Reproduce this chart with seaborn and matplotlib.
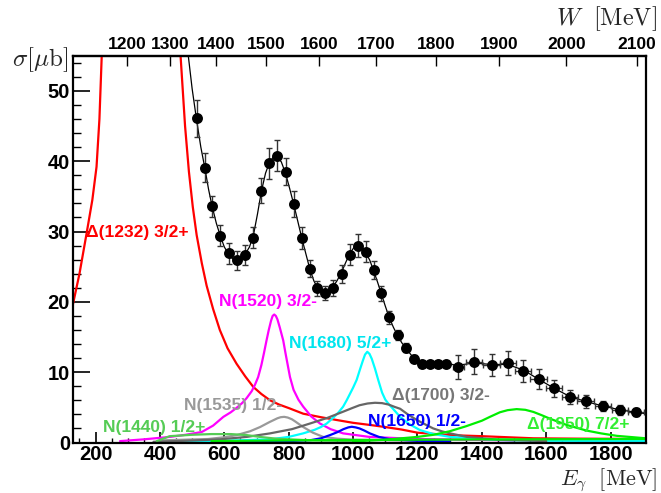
import numpy as np
import pandas as pd
import matplotlib
matplotlib.use("Agg")
import matplotlib.pyplot as plt
from matplotlib.ticker import MultipleLocator, FixedLocator
import seaborn as sns

# ---- measured total cross section ----
e_gamma = [514, 540, 562, 588, 613, 639, 665, 690, 715, 740, 763, 790, 816, 841,
           866, 889, 913, 937, 964, 989, 1014, 1039, 1064, 1088, 1112, 1138, 1164,
           1188, 1214, 1240, 1264, 1289, 1327, 1375, 1430, 1480, 1529, 1576, 1625,
           1675, 1722, 1775, 1828, 1878]
sigma = [46.1, 39.1, 33.6, 29.4, 26.9, 25.9, 26.7, 29.1, 35.8, 39.7, 40.8, 38.5, 33.9, 29.1,
         24.7, 21.9, 21.3, 22.0, 24.0, 26.7, 28.0, 27.1, 24.5, 21.2, 17.8, 15.3, 13.5,
         11.9, 11.2, 11.1, 11.2, 11.2, 10.7, 11.5, 11.0, 11.3, 10.2, 9.0, 7.7,
         6.5, 5.85, 5.2, 4.65, 4.3]
sigma_err = [2.6, 2.1, 1.5, 1.5, 1.5, 1.4, 1.4, 1.5, 1.8, 2.2, 2.2, 1.9, 1.8, 1.6,
             1.2, 1.0, 1.0, 1.1, 1.3, 1.5, 1.6, 1.5, 1.3, 1.1, 0.9, 0.7, 0.6,
             0.5, 0.4, 0.4, 0.4, 0.4, 1.7, 1.8, 1.6, 1.7, 1.6, 1.4, 1.2,
             1.0, 0.9, 0.7, 0.7, 0.6]
e_err = [0] * 32 + [18] + [25] * 11

# ---- total fit curve ----
fit_e = [488, 500, 514, 527, 540, 551, 562, 575, 588, 600, 613, 626, 639, 652, 665,
         678, 690, 703, 715, 728, 740, 752, 763, 777, 790, 803, 816, 829, 841, 854,
         866, 878, 889, 901, 913, 925, 937, 950, 964, 977, 989, 1002, 1014, 1027,
         1039, 1052, 1064, 1076, 1088, 1100, 1112, 1125, 1138, 1151, 1164, 1176,
         1188, 1214, 1240, 1264, 1289, 1327, 1375, 1430, 1480, 1529, 1576, 1625,
         1675, 1722, 1775, 1828, 1878, 1909]
fit_sigma = [55.0, 50.3, 45.8, 42.0, 38.9, 36.0, 33.6, 31.2, 29.3, 27.8, 26.8, 26.1, 25.9,
             26.1, 26.8, 27.8, 29.4, 32.5, 35.7, 38.3, 39.8, 40.6, 40.7, 39.9, 38.3,
             36.1, 33.8, 31.3, 29.0, 26.7, 24.6, 23.0, 22.0, 21.4, 21.3, 21.6, 22.1,
             23.0, 24.2, 25.6, 26.8, 27.7, 28.0, 27.8, 27.0, 25.9, 24.4, 22.8, 21.1,
             19.4, 17.8, 16.4, 15.2, 14.2, 13.4, 12.7, 12.0, 11.3, 11.1, 11.2, 11.2,
             11.0, 11.3, 11.1, 11.1, 10.3, 9.0, 7.7, 6.5, 5.85, 5.2, 4.65, 4.3, 4.1]

# ---- single-resonance contributions ----
d1232_e = [129, 150, 172, 190, 203, 212, 219, 225, 240, 260, 280, 310, 340, 370, 400,
           420, 440, 452, 464, 478, 490, 502, 514, 530, 545, 565, 586, 610, 638, 665,
           690, 715, 742, 770, 800, 845, 900, 949, 1000, 1052, 1100, 1150, 1200, 1300,
           1400, 1560, 1700, 1909]
d1232_s = [19.5, 24.0, 29.7, 34.5, 39.2, 46.0, 54.8, 62, 85, 125, 180, 300, 400, 300, 180,
           125, 90, 70, 55, 45, 38.5, 33.5, 29.5, 25.5, 22.3, 19.0, 16.0, 13.4, 11.2, 9.4,
           7.9, 6.9, 6.0, 5.4, 4.9, 4.1, 3.6, 3.2, 2.8, 2.5, 2.2, 1.85, 1.4, 1.05,
           0.9, 0.6, 0.55, 0.5]

n1520_e = [276, 350, 431, 480, 530, 565, 597, 620, 640, 655, 669, 685, 695, 705, 715, 723,
           731, 738, 745, 750, 755, 760, 765, 772, 783, 790, 797, 804, 815, 830, 845,
           870, 897, 930, 969, 1050, 1200, 1500]
n1520_s = [0.2, 0.45, 0.8, 1.1, 1.5, 2.4, 3.65, 4.3, 5.0, 5.6, 6.3, 7.3, 8.2, 9.3, 11.0, 12.7,
           14.5, 16.0, 17.3, 18.0, 18.2, 18.0, 17.5, 16.4, 14.5, 12.7, 11.0, 9.3, 7.5, 6.1, 5.1,
           3.7, 2.7, 1.9, 1.3, 0.8, 0.5, 0.3]

n1680_e = [420, 600, 742, 800, 845, 880, 900, 918, 940, 955, 969, 980, 990, 1000, 1011,
           1020, 1030, 1037, 1044, 1051, 1058, 1068, 1078, 1090, 1100, 1110, 1120, 1146,
           1175, 1208, 1250, 1301, 1456, 1600, 1909]
n1680_s = [0.15, 0.25, 0.45, 0.8, 1.3, 1.8, 2.2, 2.7, 3.6, 4.3, 5.1, 6.0, 6.9, 7.8, 8.9,
           10.2, 11.6, 12.5, 12.9, 12.6, 11.9, 10.5, 8.9, 7.1, 6.1, 5.5, 5.0, 3.65,
           2.6, 1.76, 1.2, 0.8, 0.35, 0.25, 0.2]

n1535_e = [400, 550, 600, 638, 680, 711, 740, 765, 775, 786, 797, 810, 820, 845, 875, 907,
           950, 1000, 1200]
n1535_s = [0.3, 0.5, 0.75, 1.05, 1.6, 2.2, 2.9, 3.45, 3.6, 3.65, 3.55, 3.3, 3.0, 2.2, 1.4,
           0.8, 0.55, 0.4, 0.25]

d1700_e = [380, 480, 586, 670, 742, 810, 866, 920, 970, 1000, 1020, 1045, 1068, 1090,
           1110, 1130, 1146, 1170, 1198, 1225, 1249, 1275, 1301, 1353, 1450, 1600]
d1700_s = [0.1, 0.25, 0.45, 0.8, 1.3, 1.9, 2.7, 3.5, 4.4, 4.95, 5.3, 5.55, 5.65, 5.6,
           5.4, 5.05, 4.8, 4.0, 3.2, 2.55, 2.0, 1.6, 1.3, 0.8, 0.4, 0.2]

n1650_e = [600, 800, 870, 900, 928, 950, 970, 985, 996, 1008, 1020, 1035, 1052, 1080,
           1115, 1200, 1300]
n1650_s = [0.05, 0.2, 0.35, 0.6, 1.05, 1.45, 1.9, 2.15, 2.24, 2.15, 2.0, 1.7, 1.3, 0.8,
           0.45, 0.25, 0.15]

n1440_e = [390, 430, 500, 560, 620, 670, 710, 760, 850, 1000]
n1440_s = [0.2, 0.9, 1.1, 1.2, 1.2, 1.05, 0.8, 0.55, 0.35, 0.2]

d1950_e = [1000, 1100, 1200, 1250, 1300, 1350, 1400, 1425, 1456, 1480, 1508, 1535, 1560,
           1585, 1611, 1663, 1725, 1770, 1819, 1909]
d1950_s = [0.15, 0.4, 0.8, 1.1, 1.6, 2.3, 3.1, 3.65, 4.3, 4.6, 4.75, 4.65, 4.35,
           3.9, 3.4, 2.5, 1.7, 1.3, 0.95, 0.6]

bg_e = [560, 800, 1000, 1200, 1500, 1909]
bg_s = [0.2, 0.3, 0.35, 0.4, 0.45, 0.5]

curves = [
    ("Δ(1232) 3/2+", d1232_e, d1232_s, "#ff0000"),
    ("N(1520) 3/2-", n1520_e, n1520_s, "#ff00ff"),
    ("N(1680) 5/2+", n1680_e, n1680_s, "#00ffff"),
    ("N(1535) 1/2-", n1535_e, n1535_s, "#999999"),
    ("Δ(1700) 3/2-", d1700_e, d1700_s, "#666666"),
    ("N(1650) 1/2-", n1650_e, n1650_s, "#0000ff"),
    ("N(1440) 1/2+", n1440_e, n1440_s, "#55cc55"),
    ("Δ(1950) 7/2+", d1950_e, d1950_s, "#00ee00"),
    ("background", bg_e, bg_s, "#00ee00"),
]

# label anchors (E_gamma, sigma)
labels = [
    ("Δ(1232) 3/2+", 170, 29.9, "#ff0000"),
    ("N(1520) 3/2-", 584, 20.0, "#ff00ff"),
    ("N(1680) 5/2+", 802, 14.1, "#00e5ee"),
    ("N(1535) 1/2-", 475, 5.3, "#999999"),
    ("N(1440) 1/2+", 224, 2.2, "#55cc55"),
    ("Δ(1700) 3/2-", 1120, 6.7, "#777777"),
    ("N(1650) 1/2-", 1046, 3.0, "#0000ff"),
    ("Δ(1950) 7/2+", 1539, 2.5, "#33ee33"),
]

sns.set_theme(style="ticks")
plt.rcParams["font.family"] = ["Liberation Sans", "DejaVu Sans"]
plt.rcParams["mathtext.fontset"] = "cm"

fig = plt.figure(figsize=(6.61, 4.93), dpi=100)
ax = fig.add_axes([0.110, 0.1024, 0.8669, 0.7846])

for name, xe, ys, col in curves:
    df = pd.DataFrame({"E": xe, "s": ys})
    sns.lineplot(data=df, x="E", y="s", ax=ax, color=col, lw=1.6,
                 sort=False, estimator=None, zorder=2)

fit_df = pd.DataFrame({"E": fit_e, "s": fit_sigma})
sns.lineplot(data=fit_df, x="E", y="s", ax=ax, color="black", lw=0.9,
             sort=False, estimator=None, zorder=3)

ax.errorbar(e_gamma, sigma, yerr=sigma_err, xerr=e_err, fmt="none",
            ecolor="#333333", elinewidth=1.0, capsize=2.2, capthick=1.0, zorder=4)
pts = pd.DataFrame({"E": e_gamma, "s": sigma})
sns.scatterplot(data=pts, x="E", y="s", ax=ax, color="black", s=62,
                edgecolor="black", linewidth=0, zorder=5)

for txt, x, y, col in labels:
    ax.text(x, y, txt, color=col, fontsize=12.5, fontweight="bold",
            ha="left", va="center", zorder=6)

ax.set_xlim(129, 1909)
ax.set_ylim(0, 55)
ax.set_xlabel("")
ax.set_ylabel("")

ax.xaxis.set_major_locator(MultipleLocator(200))
ax.xaxis.set_minor_locator(MultipleLocator(50))
ax.yaxis.set_major_locator(MultipleLocator(10))
ax.yaxis.set_minor_locator(MultipleLocator(2))
ax.tick_params(axis="both", which="both", direction="in", top=False, right=False,
               colors="black", labelsize=14.5)
ax.tick_params(axis="x", which="major", length=8, width=1.2, pad=2)
ax.tick_params(axis="x", which="minor", length=3.6, width=1.0)
ax.tick_params(axis="y", which="major", length=12, width=1.2, pad=2)
ax.tick_params(axis="y", which="minor", length=5.8, width=1.0)
for lab in ax.get_xticklabels() + ax.get_yticklabels():
    lab.set_fontweight("bold")
for sp in ax.spines.values():
    sp.set_visible(True)
    sp.set_color("black")
    sp.set_linewidth(1.6)

# invariant mass axis on top
mp = 938.27


def e2w(e):
    e = np.asarray(e, dtype=float)
    return np.sqrt(np.clip(mp * mp + 2 * mp * e, 1, None))


def w2e(w):
    w = np.asarray(w, dtype=float)
    return (w * w - mp * mp) / (2 * mp)


top = ax.secondary_xaxis("top", functions=(e2w, w2e))
top.xaxis.set_major_locator(FixedLocator(list(range(1200, 2101, 100))))
top.tick_params(axis="x", which="major", direction="in", length=7.2, width=1.0,
                labelsize=12.5, pad=3, colors="black")
top.tick_params(axis="x", which="minor", length=0)
for lab in top.get_xticklabels():
    lab.set_fontweight("bold")
top.spines["top"].set_linewidth(1.6)

fig.text(0.103, 1 - 66 / 493, r"$\sigma[\mu\mathrm{b}]$", fontsize=18,
         ha="right", va="baseline")
fig.text(0.994, 1 - 485 / 493, r"$E_{\gamma}\ \ [\mathrm{MeV}]$", fontsize=16,
         ha="right", va="baseline")
fig.text(0.994, 1 - 25 / 493, r"$W\ \ [\mathrm{MeV}]$", fontsize=17.5,
         ha="right", va="baseline")

fig.savefig("out.png", dpi=100)
